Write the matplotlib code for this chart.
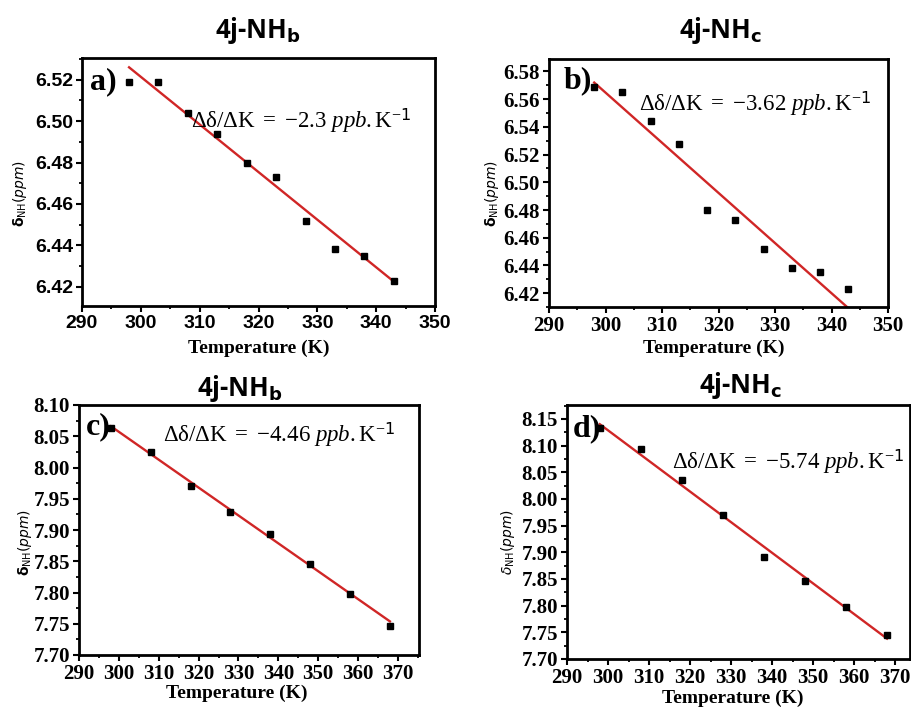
import matplotlib
matplotlib.use("Agg")
import matplotlib.pyplot as plt
import numpy as np
from matplotlib.ticker import MultipleLocator, AutoMinorLocator

plt.rcParams['mathtext.fontset'] = 'custom'
plt.rcParams['mathtext.rm'] = 'Liberation Serif'
plt.rcParams['mathtext.it'] = 'Liberation Serif:italic'
plt.rcParams['mathtext.bf'] = 'Liberation Serif:bold'

# Temperatures (K) and NH chemical shifts (ppm)
temp_ab = [298, 303, 308, 313, 318, 323, 328, 333, 338, 343]
shift_a = [6.519, 6.519, 6.504, 6.494, 6.480, 6.473, 6.452, 6.438, 6.435, 6.423]
shift_b = [6.569, 6.565, 6.544, 6.528, 6.480, 6.473, 6.452, 6.438, 6.435, 6.423]

temp_cd = [298, 308, 318, 328, 338, 348, 358, 368]
shift_c = [8.063, 8.025, 7.971, 7.929, 7.893, 7.846, 7.798, 7.746]
shift_d = [8.133, 8.093, 8.035, 7.970, 7.891, 7.846, 7.798, 7.745]

# Temperature coefficients (ppb/K) and line start value at 298 K
slopes = [-2.3, -3.62, -4.46, -5.74]
line_start = [6.526, 6.572, 8.066, 8.140]

titles = [r'4j-NH$_\mathbf{b}$', r'4j-NH$_\mathbf{c}$',
          r'4j-NH$_\mathbf{b}$', r'4j-NH$_\mathbf{c}$']
panel_tags = ['a)', 'b)', 'c)', 'd)']

fig = plt.figure(figsize=(9.11, 7.09), dpi=100)
W, H = 911, 709


def px_axes(l, r, t, b):
    return fig.add_axes([l / W, 1 - b / H, (r - l) / W, (b - t) / H])


panels = [
    dict(box=(82, 435, 58, 306), x=temp_ab, y=shift_a, xlim=(290, 350), ylim=(6.4107, 6.5305),
         ymaj=0.02, fmt='{:.2f}', tickfont='Liberation Sans', xt=(290, 350),
         ann=(308.6, 6.5005), tag=(291.4, 6.519), title=(258, 30), xl=(259, 348), yl=(20, 193),
         yital=False),
    dict(box=(549, 888, 59, 307), x=temp_ab, y=shift_b, xlim=(290, 350), ylim=(6.410, 6.589),
         ymaj=0.02, fmt='{:.2f}', tickfont='Liberation Serif', xt=(290, 350),
         ann=(306.0, 6.557), tag=(292.5, 6.573), title=(720, 30), xl=(714, 348), yl=(492, 193),
         yital=False),
    dict(box=(79, 419, 405, 655), x=temp_cd, y=shift_c, xlim=(290, 375.3), ylim=(7.70, 8.10),
         ymaj=0.05, fmt='{:.2f}', tickfont='Liberation Serif', xt=(290, 370),
         ann=(311.0, 8.052), tag=(291.8, 8.066), title=(240, 388), xl=(237, 693), yl=(25, 542),
         yital=False),
    dict(box=(567, 910, 405, 659), x=temp_cd, y=shift_d, xlim=(290, 373.6), ylim=(7.70, 8.176),
         ymaj=0.05, fmt='{:.2f}', tickfont='Liberation Serif', xt=(290, 370),
         ann=(315.5, 8.070), tag=(291.4, 8.131), title=(740, 385), xl=(733, 698), yl=(508, 542),
         yital=True),
]

for i, p in enumerate(panels):
    ax = px_axes(*p['box'])
    ax.set_xlim(*p['xlim'])
    ax.set_ylim(*p['ylim'])

    # data points
    ax.plot(p['x'], p['y'], linestyle='none', marker='s', markersize=4.2,
            color='black', zorder=3)

    # linear trend from the stated coefficient
    t0, t1 = p['x'][0], p['x'][-1]
    k = slopes[i] * 1e-3
    tt = np.array([t0, t1])
    ax.plot(tt, line_start[i] + k * (tt - t0), color='#d02626', lw=1.7, zorder=2)

    for s in ax.spines.values():
        s.set_linewidth(2.0)
    ax.xaxis.set_major_locator(MultipleLocator(10))
    ax.xaxis.set_minor_locator(AutoMinorLocator(2))
    ax.yaxis.set_major_locator(MultipleLocator(p['ymaj']))
    ax.yaxis.set_minor_locator(AutoMinorLocator(2))
    ax.tick_params(which='major', direction='out', length=4.5, width=1.5,
                   top=False, right=False, pad=2)
    ax.tick_params(which='minor', direction='out', length=2.5, width=1.3,
                   top=False, right=False)
    xt = np.arange(p['xt'][0], p['xt'][1] + 1, 10)
    ax.set_xticks(xt)
    ax.set_xticklabels([str(v) for v in xt])
    yt = [v for v in ax.get_yticks() if p['ylim'][0] - 1e-6 <= v <= p['ylim'][1] + 1e-6]
    ax.set_yticks(yt)
    ax.set_yticklabels([p['fmt'].format(v) for v in yt])
    for lab in ax.get_xticklabels() + ax.get_yticklabels():
        lab.set_fontfamily(p['tickfont'])
        lab.set_fontweight('bold')
        lab.set_fontsize(15 if p['tickfont'] == 'Liberation Serif' else 14)

    # slope annotation
    mag = f'{abs(slopes[i]):.2f}'.rstrip('0')
    ax.text(p['ann'][0], p['ann'][1],
            r'$\mathrm{\Delta\delta/\Delta K}\ =\ {-}\mathrm{' + mag
            + r'}\ \mathit{ppb}.\mathrm{K}^{{-}\mathregular{1}}$',
            fontsize=16.5, va='center', ha='left', zorder=4)

    # panel tag
    ax.text(p['tag'][0], p['tag'][1], panel_tags[i], fontsize=23, fontweight='bold',
            family='Liberation Serif', va='center', ha='left', zorder=4)

    # title, axis labels placed in pixel positions
    fig.text(p['title'][0] / W, 1 - p['title'][1] / H, titles[i], fontsize=18.5,
             fontweight='bold', family='Open Sans', ha='center', va='center',
             math_fontfamily='dejavusans')
    fig.text(p['xl'][0] / W, 1 - p['xl'][1] / H, 'Temperature (K)', fontsize=14,
             fontweight='bold', family='Liberation Serif', ha='center', va='center')
    ylab = (r'$\mathit{\delta}_{\mathregular{NH}}\mathit{(ppm)}$' if p['yital']
            else r'$\mathbf{\delta}_{\mathregular{NH}}\mathit{(ppm)}$')
    fig.text(p['yl'][0] / W, 1 - p['yl'][1] / H, ylab, fontsize=10, rotation=90,
             ha='center', va='center', math_fontfamily='dejavusans')

fig.savefig('out.png', dpi=100)
